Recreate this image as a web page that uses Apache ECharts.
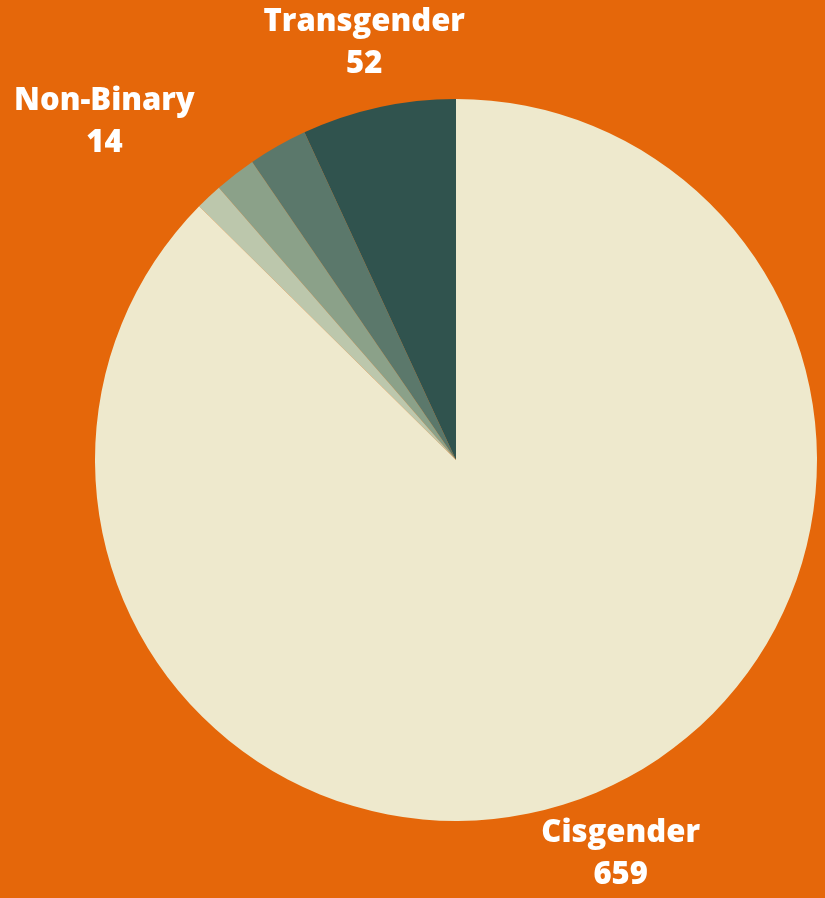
<!DOCTYPE html>
<html>
<head>
<meta charset="utf-8">
<script src="https://cdn.jsdelivr.net/npm/echarts@6/dist/echarts.min.js"></script>
<style>
  html, body { margin: 0; padding: 0; background: #E5670A; }
  #chart { width: 825px; height: 898px; }
</style>
</head>
<body>
<div id="chart"></div>
<script>
  // slices, counter-clockwise from 12 o'clock
  const names = ["Transgender", "Other", "Non-Binary", "Unspecified", "Cisgender"];
  const values = [52, 20, 14, 9, 659];
  const colors = ["#30534E", "#5B786B", "#8BA189", "#BCC7AC", "#EEE9CD"];
  const showLabel = [true, false, true, false, true];
  // Non-Binary block sits to the left of its anchor point
  const shiftLeft = [false, false, true, false, false];

  const chart = echarts.init(document.getElementById("chart"));

  const seriesData = names.map((n, i) => ({
    name: n,
    value: values[i],
    itemStyle: { color: colors[i] },
    label: { show: showLabel[i] },
  }));

  chart.setOption({
    backgroundColor: "#E5670A",
    animation: false,
    series: [
      {
        type: "pie",
        center: [456, 460],
        radius: 361,
        startAngle: 90,
        clockwise: false,
        avoidLabelOverlap: false,
        data: seriesData,
        itemStyle: { borderWidth: 0 },
        label: {
          position: "outside",
          formatter: "{b}\n{c}",
          color: "#ffffff",
          fontFamily: "Open Sans",
          fontWeight: 800,
          fontSize: 31,
          lineHeight: 42,
          distanceToLabelLine: 0,
        },
        labelLine: { show: false, length: 66, length2: 0 },
        labelLayout: function (params) {
          const w = params.labelRect.width;
          return shiftLeft[params.dataIndex]
            ? { align: "center", dx: -w / 2 }
            : { align: "center" };
        },
      },
    ],
  });
</script>
</body>
</html>
